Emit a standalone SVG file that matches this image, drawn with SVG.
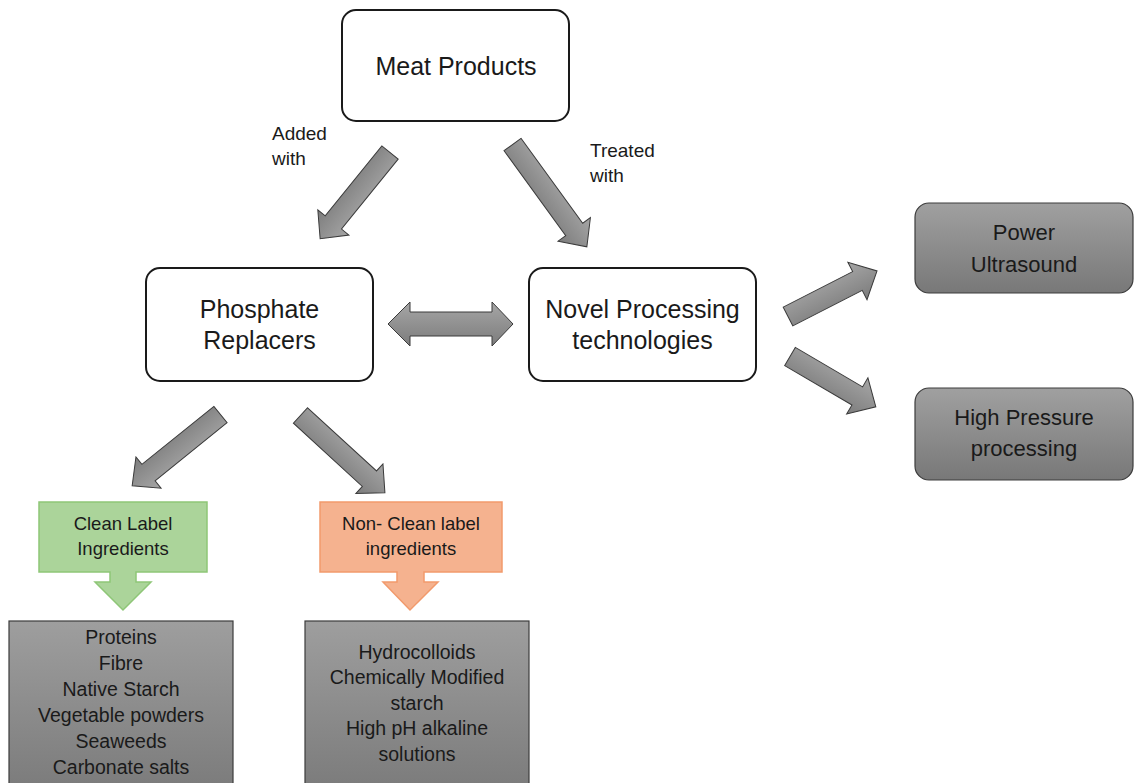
<svg xmlns="http://www.w3.org/2000/svg" width="1134" height="783" viewBox="0 0 1134 783">
  <defs>
    <linearGradient id="gArrow" x1="0" y1="0" x2="0" y2="1">
      <stop offset="0" stop-color="#a6a6a6"/>
      <stop offset="1" stop-color="#7c7c7c"/>
    </linearGradient>
    <linearGradient id="gBox" x1="0" y1="0" x2="0" y2="1">
      <stop offset="0" stop-color="#a0a0a0"/>
      <stop offset="1" stop-color="#787878"/>
    </linearGradient>
    <linearGradient id="gTall" x1="0" y1="0" x2="0" y2="1">
      <stop offset="0" stop-color="#9e9e9e"/>
      <stop offset="1" stop-color="#7a7a7a"/>
    </linearGradient>
    <style>
      .wbox { fill: #ffffff; stroke: #1a1a1a; stroke-width: 2; }
      .gbox { fill: url(#gBox); stroke: #3c3c3c; stroke-width: 1.2; }
      .tbox { fill: url(#gTall); stroke: #3c3c3c; stroke-width: 1.2; }
      .arr { fill: url(#gArrow); stroke: #3a3a3a; stroke-width: 1; stroke-linejoin: miter; }
      .t { font-family: "Liberation Sans", Arial, sans-serif; fill: #1a1a1a; text-anchor: middle; }
      .big { font-size: 25px; }
      .mid { font-size: 22px; }
      .sm { font-size: 18.5px; }
      .ls { font-size: 19.5px; }
      .lbl { font-family: "Liberation Sans", Arial, sans-serif; font-size: 19px; fill: #1a1a1a; }
    </style>
  </defs>
  <rect width="1134" height="783" fill="#ffffff"/>

  <g id="meat">
    <rect class="wbox" x="342" y="10" width="227" height="111" rx="14"/>
    <text class="t big" x="456" y="75">Meat Products</text>
  </g>

  <g id="phosphate">
    <rect class="wbox" x="146" y="268" width="227" height="113" rx="14"/>
    <text class="t big" x="259.5" y="318">Phosphate</text>
    <text class="t big" x="259.5" y="349">Replacers</text>
  </g>

  <g id="novel">
    <rect class="wbox" x="529" y="268" width="227" height="113" rx="14"/>
    <text class="t big" x="642.5" y="318">Novel Processing</text>
    <text class="t big" x="642.5" y="349">technologies</text>
  </g>

  <g id="ultrasound">
    <rect class="gbox" x="915" y="203" width="218" height="90" rx="14"/>
    <text class="t mid" x="1024" y="240">Power</text>
    <text class="t mid" x="1024" y="272">Ultrasound</text>
  </g>

  <g id="hpp">
    <rect class="gbox" x="915" y="388" width="218" height="92" rx="14"/>
    <text class="t mid" x="1024" y="425">High Pressure</text>
    <text class="t mid" x="1024" y="456">processing</text>
  </g>

  <g id="clean">
    <path d="M39,502 H207 V572 H136 V582 H151 L123,610 L95,582 H110 V572 H39 Z" fill="#abd49a" stroke="#8ec677" stroke-width="1.5"/>
    <text class="t sm" x="123" y="530">Clean Label</text>
    <text class="t sm" x="123" y="555">Ingredients</text>
  </g>

  <g id="nonclean">
    <path d="M320,502 H502 V572 H424 V582 H438 L410,610 L383,582 H397 V572 H320 Z" fill="#f5b28f" stroke="#f29a6c" stroke-width="1.5"/>
    <text class="t sm" x="411" y="530">Non- Clean label</text>
    <text class="t sm" x="411" y="555">ingredients</text>
  </g>

  <g id="clean-list">
    <rect class="tbox" x="9" y="621" width="224" height="175"/>
    <text class="t ls" x="121" y="644">Proteins</text>
    <text class="t ls" x="121" y="670">Fibre</text>
    <text class="t ls" x="121" y="696">Native Starch</text>
    <text class="t ls" x="121" y="722">Vegetable powders</text>
    <text class="t ls" x="121" y="748">Seaweeds</text>
    <text class="t ls" x="121" y="774">Carbonate salts</text>
  </g>

  <g id="nonclean-list">
    <rect class="tbox" x="305" y="621" width="224" height="175"/>
    <text class="t ls" x="417" y="659">Hydrocolloids</text>
    <text class="t ls" x="417" y="684">Chemically Modified</text>
    <text class="t ls" x="417" y="710">starch</text>
    <text class="t ls" x="417" y="735">High pH alkaline</text>
    <text class="t ls" x="417" y="761">solutions</text>
  </g>

  <g id="connectors">
    <polygon class="arr" points="0,-10.5 90,-10.5 90,-20 111,0 90,20 90,10.5 0,10.5" transform="translate(390,152.5) rotate(129)"/>
    <polygon class="arr" points="0,-10.5 105,-10.5 105,-20 126.5,0 105,20 105,10.5 0,10.5" transform="translate(512.5,144.5) rotate(54)"/>
    <polygon class="arr" points="388,324 410,302 410,312 492,312 492,302 513,324 492,346 492,336 410,336 410,346"/>
    <polygon class="arr" points="0,-10.5 92.5,-10.5 92.5,-20 113.5,0 92.5,20 92.5,10.5 0,10.5" transform="translate(220.5,414.5) rotate(141.1)"/>
    <polygon class="arr" points="0,-10.5 93.5,-10.5 93.5,-20 114.5,0 93.5,20 93.5,10.5 0,10.5" transform="translate(300.5,415.5) rotate(42.5)"/>
    <polygon class="arr" points="0,-10.5 78,-10.5 78,-21 100,0 78,21 78,10.5 0,10.5" transform="translate(788,316.5) rotate(-27.1)"/>
    <polygon class="arr" points="0,-10.5 78,-10.5 78,-21 99.5,0 78,21 78,10.5 0,10.5" transform="translate(790,356.5) rotate(30.4)"/>
    <text class="lbl" x="272" y="140">Added</text>
    <text class="lbl" x="272" y="165">with</text>
    <text class="lbl" x="590" y="157">Treated</text>
    <text class="lbl" x="590" y="182">with</text>
  </g>
</svg>
